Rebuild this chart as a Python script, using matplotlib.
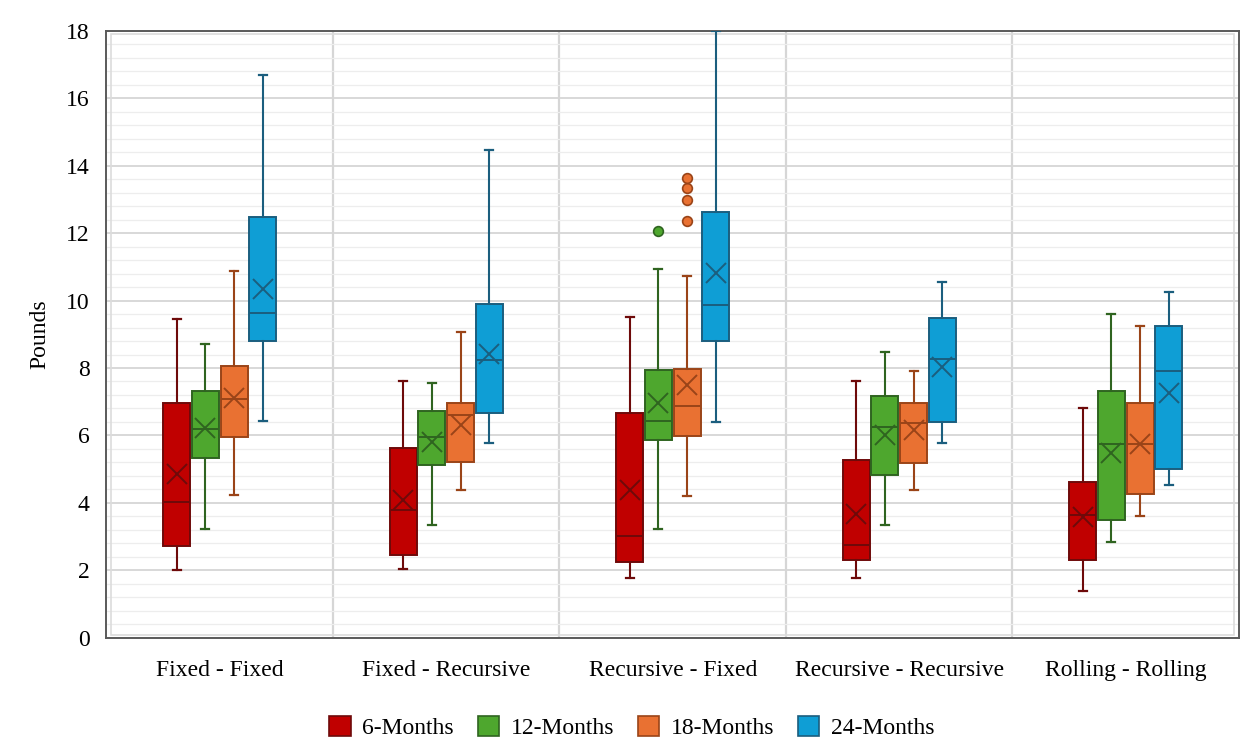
import matplotlib
matplotlib.use("Agg")
import matplotlib.pyplot as plt
from matplotlib.patches import Patch, Rectangle
from matplotlib.ticker import MultipleLocator

plt.rcParams["font.family"] = ["Liberation Serif", "DejaVu Serif"]

categories = ["Fixed - Fixed", "Fixed - Recursive", "Recursive - Fixed",
              "Recursive - Recursive", "Rolling - Rolling"]
horizons = ["6-Months", "12-Months", "18-Months", "24-Months"]

# Five-number summaries and means per horizon, one entry per category
whislo = {
    "6-Months":  [2.00, 2.05, 1.76, 1.78, 1.39],
    "12-Months": [3.23, 3.34, 3.23, 3.34, 2.83],
    "18-Months": [4.22, 4.37, 4.21, 4.37, 3.60],
    "24-Months": [6.42, 5.77, 6.41, 5.77, 4.53],
}
q1 = {
    "6-Months":  [2.73, 2.44, 2.24, 2.29, 2.31],
    "12-Months": [5.34, 5.13, 5.85, 4.84, 3.50],
    "18-Months": [5.96, 5.22, 5.97, 5.18, 4.27],
    "24-Months": [8.79, 6.66, 8.79, 6.41, 5.00],
}
med = {
    "6-Months":  [4.02, 3.78, 3.01, 2.75, 3.63],
    "12-Months": [6.18, 5.96, 6.42, 6.26, 5.76],
    "18-Months": [7.08, 6.61, 6.88, 6.37, 5.74],
    "24-Months": [9.64, 8.23, 9.88, 8.26, 7.90],
}
q3 = {
    "6-Months":  [6.95, 5.63, 6.66, 5.28, 4.63],
    "12-Months": [7.33, 6.71, 7.94, 7.16, 7.31],
    "18-Months": [8.07, 6.97, 7.96, 6.95, 6.96],
    "24-Months": [12.49, 9.90, 12.64, 9.49, 9.24],
}
whishi = {
    "6-Months":  [9.46, 7.62, 9.50, 7.62, 6.81],
    "12-Months": [8.71, 7.56, 10.94, 8.47, 9.60],
    "18-Months": [10.89, 9.06, 10.73, 7.90, 9.25],
    "24-Months": [16.69, 14.47, 18.00, 10.54, 10.27],
}
means = {
    "6-Months":  [4.86, 4.08, 4.39, 3.68, 3.58],
    "12-Months": [6.23, 5.79, 6.95, 6.01, 5.49],
    "18-Months": [7.10, 6.31, 7.50, 6.16, 5.74],
    "24-Months": [10.35, 8.43, 10.83, 8.03, 7.27],
}
outliers = {
    "6-Months":  [[], [], [], [], []],
    "12-Months": [[], [], [12.07], [], []],
    "18-Months": [[], [], [12.37, 13.00, 13.33, 13.63], [], []],
    "24-Months": [[], [], [], [], []],
}

fills = ["#C00000", "#4EA72E", "#E97132", "#0F9ED5"]
edges = ["#6E0A0A", "#2F6420", "#9A4418", "#1B5E7E"]
offsets = [-0.19, -0.064, 0.064, 0.19]
box_w = 0.12

fig = plt.figure(figsize=(12.44, 7.38), dpi=100)
ax = fig.add_axes([0.0855, 0.136, 0.9105, 0.822])

for k, h in enumerate(horizons):
    stats = []
    for i in range(len(categories)):
        stats.append(dict(whislo=whislo[h][i], q1=q1[h][i], med=med[h][i],
                          q3=q3[h][i], whishi=whishi[h][i], mean=means[h][i],
                          fliers=outliers[h][i]))
    pos = [i + offsets[k] for i in range(len(categories))]
    ax.bxp(stats, positions=pos, widths=box_w, patch_artist=True,
           showmeans=True, showfliers=True, capwidths=0.035,
           boxprops=dict(facecolor=fills[k], edgecolor=edges[k], linewidth=1.4),
           medianprops=dict(color=edges[k], linewidth=1.4),
           whiskerprops=dict(color=edges[k], linewidth=1.5),
           capprops=dict(color=edges[k], linewidth=1.6),
           meanprops=dict(marker="x", markersize=14, markeredgewidth=1.4,
                          markeredgecolor=edges[k]),
           flierprops=dict(marker="o", markersize=7, markerfacecolor=fills[k],
                           markeredgecolor=edges[k], markeredgewidth=1.2),
           zorder=3)

ax.set_xlim(-0.5, len(categories) - 0.5)
ax.set_ylim(0, 18)
ax.set_xticks(range(len(categories)))
ax.set_xticklabels(categories, fontsize=17)
ax.yaxis.set_major_locator(MultipleLocator(2))
ax.yaxis.set_minor_locator(MultipleLocator(0.4))
ax.tick_params(axis="both", which="both", length=0, labelsize=17)
ax.tick_params(axis="x", pad=16)
ax.tick_params(axis="y", pad=12)
ax.set_ylabel("Pounds", fontsize=17, labelpad=11)

ax.grid(axis="y", which="major", color="#d6d6d6", linewidth=1.3, zorder=0)
ax.grid(axis="y", which="minor", color="#ededed", linewidth=0.9, zorder=0)
for b in range(1, len(categories)):
    ax.axvline(b - 0.5, color="#d6d6d6", linewidth=1.6, zorder=0)
ax.set_axisbelow(True)

for s in ax.spines.values():
    s.set_color("#5a5a5a")
    s.set_linewidth(1.4)
ax.add_patch(Rectangle((0.004, 0.005), 0.992, 0.99, transform=ax.transAxes,
                       fill=False, edgecolor="#dcdcdc", linewidth=1.2, zorder=1))

handles = [Patch(facecolor=fills[k], edgecolor=edges[k], linewidth=1.2, label=h)
           for k, h in enumerate(horizons)]
fig.legend(handles=handles, loc="lower center", bbox_to_anchor=(0.508, -0.03),
           ncol=4, frameon=False, fontsize=17, handlelength=0.9, handleheight=0.9,
           columnspacing=1.0, handletextpad=0.5)

fig.savefig("out.png", dpi=100, facecolor="white")
